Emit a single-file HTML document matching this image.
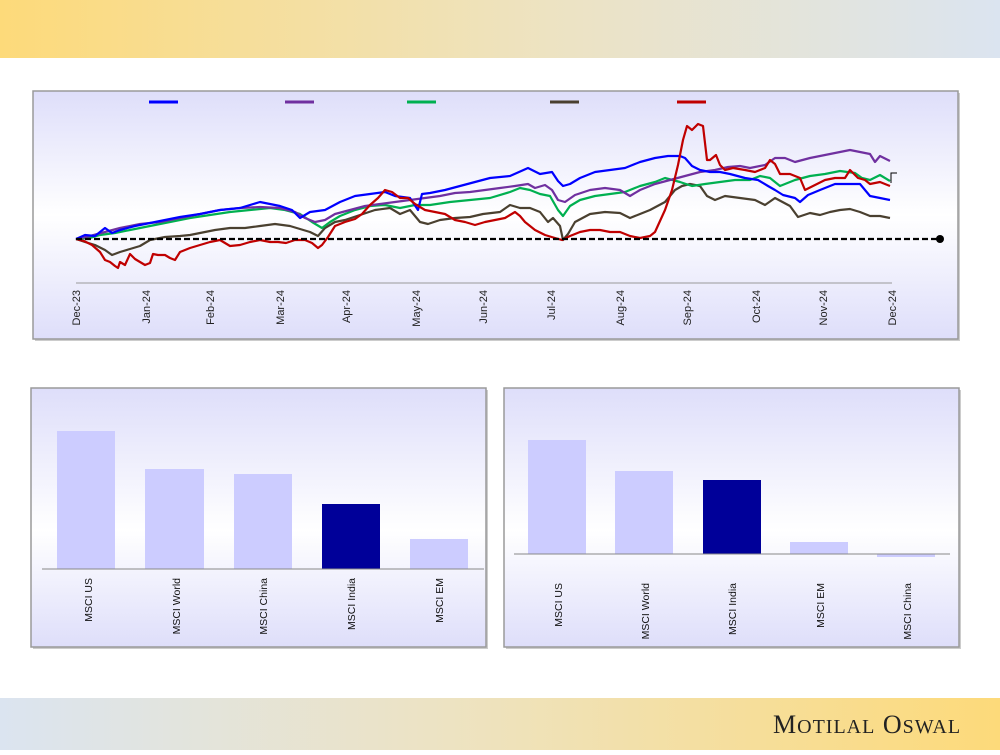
<!DOCTYPE html>
<html><head><meta charset="utf-8"><style>
body{margin:0;width:1000px;height:750px;overflow:hidden;background:#fff;font-family:"Liberation Sans",sans-serif}
</style></head><body>
<svg width="1000" height="750" viewBox="0 0 1000 750" xmlns="http://www.w3.org/2000/svg">
<defs>
<linearGradient id="hd" x1="0" x2="1"><stop offset="0" stop-color="#fdda7a"/><stop offset="0.55" stop-color="#ede3c2"/><stop offset="1" stop-color="#dbe4f0"/></linearGradient>
<linearGradient id="ft" x1="0" x2="1"><stop offset="0" stop-color="#dbe4f0"/><stop offset="0.45" stop-color="#ede3c2"/><stop offset="1" stop-color="#fdda7a"/></linearGradient>
<linearGradient id="pn" x1="0" y1="0" x2="0" y2="1"><stop offset="0" stop-color="#dedefa"/><stop offset="0.55" stop-color="#ffffff"/><stop offset="1" stop-color="#dedefa"/></linearGradient>
<linearGradient id="pn2" x1="0" y1="0" x2="0" y2="1"><stop offset="0" stop-color="#dedefa"/><stop offset="0.5" stop-color="#ffffff"/><stop offset="1" stop-color="#dedefa"/></linearGradient>
</defs>
<rect x="0" y="0" width="1000" height="58" fill="url(#hd)"/>
<rect x="0" y="698" width="1000" height="52" fill="url(#ft)"/>
<text x="773" y="733" font-family="Liberation Serif,serif" font-size="26" fill="#222" letter-spacing="1">M<tspan font-size="20">OTILAL</tspan> O<tspan font-size="20">SWAL</tspan></text>

<!-- top panel -->
<rect x="35" y="93" width="925" height="248" fill="#999" opacity="0.5"/>
<rect x="33" y="91" width="925" height="248" fill="url(#pn2)" stroke="#9a9a9a" stroke-width="1.5"/>
<g stroke-width="3">
<line x1="149" y1="102" x2="178" y2="102" stroke="#0000ff"/>
<line x1="285" y1="102" x2="314" y2="102" stroke="#7030a0"/>
<line x1="407" y1="102" x2="436" y2="102" stroke="#00b050"/>
<line x1="550" y1="102" x2="579" y2="102" stroke="#4a4030"/>
<line x1="677" y1="102" x2="706" y2="102" stroke="#c00000"/>
</g>
<line x1="76" y1="283" x2="892" y2="283" stroke="#999" stroke-width="1"/>
<g fill="none" stroke-width="2.2" stroke-linejoin="round">
<polyline stroke="#4a4030" points="76,239 85,242 95,245 105,250 112,255 120,252 130,249 140,246 150,240 165,237 180,236 190,235 200,233 215,230 230,228 245,228 260,226 275,224 290,226 300,229 310,232 318,236 325,228 335,222 345,220 360,215 375,210 390,208 400,214 410,210 415,216 420,222 428,224 440,220 455,218 470,217 483,214 500,212 510,205 520,208 530,208 540,212 548,222 553,218 560,226 563,240 568,234 575,222 590,214 605,212 620,213 630,218 640,214 650,210 665,202 675,190 682,186 690,184 700,186 707,196 715,200 725,196 740,198 755,200 765,205 775,198 790,206 798,217 810,213 820,215 830,212 840,210 850,209 860,212 870,216 880,216 890,218"/>
<polyline stroke="#00b050" points="76,239 90,238 100,235 115,233 130,230 150,226 170,222 190,218 210,215 230,212 250,210 270,208 285,210 300,214 312,222 322,228 330,222 340,216 355,210 370,206 385,205 400,208 415,205 430,205 450,202 470,200 490,198 510,192 520,188 530,190 540,194 550,196 558,210 563,216 570,206 580,200 595,196 610,194 625,192 640,186 655,182 665,178 680,182 692,186 705,184 720,182 735,180 750,180 760,176 770,178 780,186 795,180 810,176 825,174 840,171 855,173 862,178 870,180 880,175 890,181"/>
<polyline stroke="#7030a0" points="76,239 90,236 105,232 120,228 140,224 160,222 180,218 200,214 220,210 240,208 260,207 280,208 295,212 305,218 315,222 325,220 335,214 350,210 365,206 380,204 395,202 410,200 425,198 440,196 455,193 470,192 485,190 500,188 515,186 528,184 535,188 545,185 552,190 558,200 565,202 575,195 590,190 605,188 620,190 630,196 640,190 655,184 670,180 685,176 700,172 715,170 728,167 740,166 750,168 765,165 775,158 785,158 795,162 810,158 825,155 840,152 850,150 860,152 870,154 875,162 880,156 890,161"/>
<polyline stroke="#0000ff" points="76,239 85,235 95,236 105,228 112,233 120,230 135,226 150,223 165,220 180,217 200,214 220,210 240,208 260,202 280,206 292,210 300,218 310,212 325,210 340,202 355,196 370,194 385,192 395,196 410,198 418,210 422,194 430,193 445,190 460,186 475,182 490,178 510,176 528,168 540,174 552,172 558,181 563,186 570,184 580,178 595,172 610,170 625,168 640,162 655,158 668,156 680,156 685,158 692,166 700,170 710,172 720,172 730,174 745,178 758,180 768,186 775,190 783,195 795,198 800,202 808,195 820,190 835,184 850,184 860,184 870,196 880,198 890,200"/>
<polyline stroke="#c00000" points="76,239 84,241 92,245 100,252 105,260 110,262 115,266 118,268 120,262 125,265 130,254 135,259 140,262 145,265 150,263 153,254 158,255 165,255 170,258 175,260 180,252 185,250 190,248 200,245 210,242 220,240 230,246 240,245 250,242 260,240 270,242 278,242 286,243 295,240 305,240 312,243 318,248 322,245 328,237 335,226 345,222 355,219 362,214 370,205 378,198 385,190 392,192 400,198 408,198 415,204 425,210 435,212 445,214 455,220 465,222 475,225 485,222 495,220 505,218 515,212 520,216 525,222 535,230 545,235 555,238 562,240 570,236 580,232 590,230 600,230 610,232 620,232 630,236 640,238 650,236 655,232 665,210 672,190 678,165 683,140 687,126 692,130 698,124 703,126 707,160 710,160 716,155 720,165 725,170 733,168 745,170 755,172 765,168 770,160 775,164 780,174 790,174 800,178 805,190 815,185 825,180 835,178 845,178 850,170 858,178 865,180 870,184 880,182 890,186"/>
</g>
<line x1="76" y1="239" x2="940" y2="239" stroke="#000" stroke-width="2.2" stroke-dasharray="6,3"/>
<circle cx="940" cy="239" r="4" fill="#000"/>
<path d="M891,183 L891,173 L897,173" fill="none" stroke="#000" stroke-width="1"/>
<g font-size="11" fill="#222" text-anchor="end">
<text transform="translate(80,290) rotate(-90)">Dec-23</text>
<text transform="translate(150,290) rotate(-90)">Jan-24</text>
<text transform="translate(214,290) rotate(-90)">Feb-24</text>
<text transform="translate(284,290) rotate(-90)">Mar-24</text>
<text transform="translate(350,290) rotate(-90)">Apr-24</text>
<text transform="translate(420,290) rotate(-90)">May-24</text>
<text transform="translate(487,290) rotate(-90)">Jun-24</text>
<text transform="translate(555,290) rotate(-90)">Jul-24</text>
<text transform="translate(624,290) rotate(-90)">Aug-24</text>
<text transform="translate(691,290) rotate(-90)">Sep-24</text>
<text transform="translate(760,290) rotate(-90)">Oct-24</text>
<text transform="translate(827,290) rotate(-90)">Nov-24</text>
<text transform="translate(896,290) rotate(-90)">Dec-24</text>
</g>

<!-- bottom left -->
<rect x="33" y="390" width="455" height="259" fill="#999" opacity="0.5"/>
<rect x="31" y="388" width="455" height="259" fill="url(#pn)" stroke="#9a9a9a" stroke-width="1.5"/>
<g fill="#ccccff">
<rect x="57" y="431" width="58" height="138"/>
<rect x="145" y="469" width="59" height="100"/>
<rect x="234" y="474" width="58" height="95"/>
<rect x="410" y="539" width="58" height="30"/>
</g>
<rect x="322" y="504" width="58" height="65" fill="#000099"/>
<line x1="42" y1="569" x2="484" y2="569" stroke="#888" stroke-width="1"/>
<g font-size="10.5" fill="#111" text-anchor="end">
<text transform="translate(92,578) rotate(-90)">MSCI US</text>
<text transform="translate(180,578) rotate(-90)">MSCI World</text>
<text transform="translate(267,578) rotate(-90)">MSCI China</text>
<text transform="translate(355,578) rotate(-90)">MSCI India</text>
<text transform="translate(443,578) rotate(-90)">MSCI EM</text>
</g>

<!-- bottom right -->
<rect x="506" y="390" width="455" height="259" fill="#999" opacity="0.5"/>
<rect x="504" y="388" width="455" height="259" fill="url(#pn)" stroke="#9a9a9a" stroke-width="1.5"/>
<g fill="#ccccff">
<rect x="528" y="440" width="58" height="114"/>
<rect x="615" y="471" width="58" height="83"/>
<rect x="790" y="542" width="58" height="12"/>
<rect x="877" y="554" width="58" height="3"/>
</g>
<rect x="703" y="480" width="58" height="74" fill="#000099"/>
<line x1="514" y1="554" x2="950" y2="554" stroke="#888" stroke-width="1"/>
<g font-size="10.5" fill="#111" text-anchor="end">
<text transform="translate(562,583) rotate(-90)">MSCI US</text>
<text transform="translate(649,583) rotate(-90)">MSCI World</text>
<text transform="translate(736,583) rotate(-90)">MSCI India</text>
<text transform="translate(824,583) rotate(-90)">MSCI EM</text>
<text transform="translate(911,583) rotate(-90)">MSCI China</text>
</g>
</svg>
</body></html>
